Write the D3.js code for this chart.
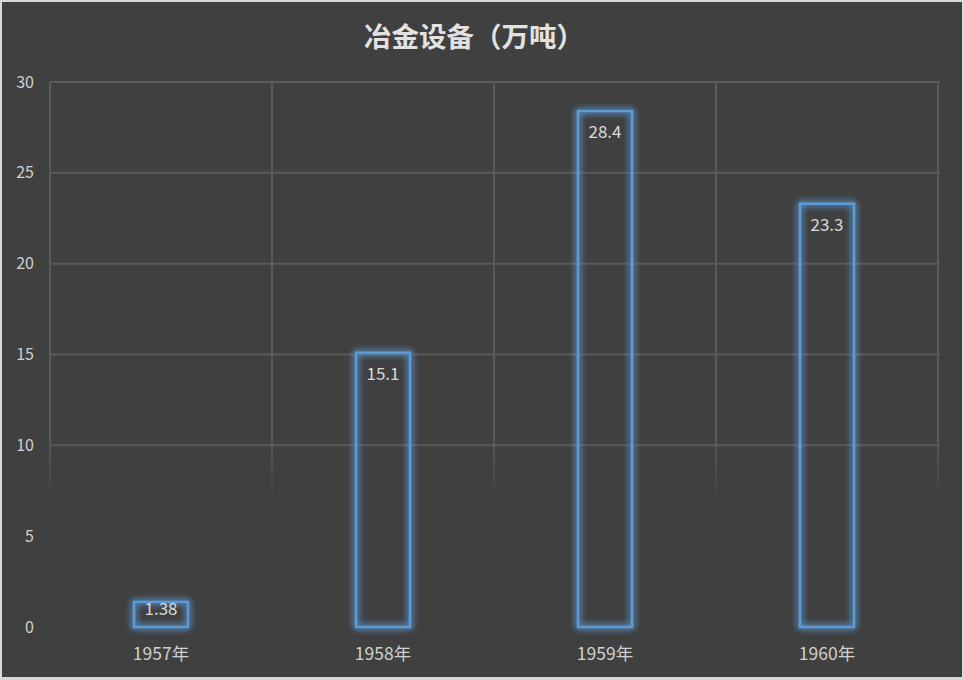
<!DOCTYPE html>
<html><head><meta charset="utf-8">
<script src="https://cdn.jsdelivr.net/npm/d3@7"></script>
<style>
html,body{margin:0;padding:0;background:#d9d9d9;}
svg{display:block;}
</style></head>
<body>
<svg id="c" width="964" height="680"></svg>
<script>
const title = "冶金设备（万吨）";
const categories = ["1957年","1958年","1959年","1960年"];
const values = [1.38, 15.1, 28.4, 23.3];
const yTicks = [0,5,10,15,20,25,30];

const W = 964, H = 680;
const svg = d3.select("#c");
const m = {left:50, right:26, top:82, bottom:53};
const FONT = "'Noto Sans CJK SC','Noto Sans',sans-serif";

svg.append("rect").attr("x",2).attr("y",2).attr("width",W-4).attr("height",H-5).attr("fill","#404040");

const defs = svg.append("defs");
const f = defs.append("filter").attr("id","glow").attr("x","-50%").attr("y","-50%").attr("width","200%").attr("height","200%");
f.append("feGaussianBlur").attr("in","SourceGraphic").attr("stdDeviation",3.5).attr("result","b");
const mg = f.append("feMerge");
mg.append("feMergeNode").attr("in","b");
mg.append("feMergeNode").attr("in","b");
mg.append("feMergeNode").attr("in","SourceGraphic");

const grad = defs.append("linearGradient").attr("id","vfade").attr("gradientUnits","userSpaceOnUse")
  .attr("x1",0).attr("y1",82).attr("x2",0).attr("y2",500);
grad.append("stop").attr("offset","0.85").attr("stop-color","#5a5a5a").attr("stop-opacity",1);
grad.append("stop").attr("offset","1").attr("stop-color","#5a5a5a").attr("stop-opacity",0);

const x = d3.scaleBand().domain(categories).range([m.left, W-m.right]);
const y = d3.scaleLinear().domain([0,30]).range([H-m.bottom, m.top]);

// horizontal grid
svg.append("g").selectAll("line").data(yTicks.filter(t=>t>=10)).join("line")
  .attr("x1",m.left).attr("x2",W-m.right+2)
  .attr("y1",d=>y(d)).attr("y2",d=>y(d))
  .attr("stroke","#5a5a5a").attr("stroke-width",2);

// vertical grid
const vx = categories.map(c=>x(c)).concat([x(categories[categories.length-1])+x.bandwidth()]);
svg.append("g").selectAll("line").data(vx).join("line")
  .attr("x1",d=>d).attr("x2",d=>d)
  .attr("y1",m.top).attr("y2",500)
  .attr("stroke","url(#vfade)").attr("stroke-width",2);

// y axis labels
const yAxis = d3.axisLeft(y).tickValues(yTicks).tickSize(0).tickPadding(0);
const ga = svg.append("g").attr("transform",`translate(34,0)`).call(yAxis);
ga.select(".domain").remove();
ga.selectAll("text").attr("fill","#d0d0d0").style("font-family",FONT).style("font-size","16px").attr("dy","0.32em");

// x axis labels
const xAxis = d3.axisBottom(x).tickSize(0).tickPadding(0);
const gx = svg.append("g").attr("transform",`translate(0,${H-m.bottom+22})`).call(xAxis);
gx.select(".domain").remove();
gx.selectAll("text").attr("fill","#d0d0d0").style("font-family",FONT).style("font-size","17.5px").attr("dy","0.62em");

// bars
const bw = 54;
svg.append("g").selectAll("rect").data(values).join("rect")
  .attr("x",(d,i)=>x(categories[i])+x.bandwidth()/2-bw/2)
  .attr("y",d=>y(d))
  .attr("width",bw)
  .attr("height",d=>y(0)-y(d))
  .attr("fill","none")
  .attr("stroke","#5b9bd5").attr("stroke-width",2.5)
  .attr("filter","url(#glow)");

// labels
svg.append("g").selectAll("text").data(values).join("text")
  .attr("x",(d,i)=>x(categories[i])+x.bandwidth()/2)
  .attr("y",d=>(y(0)-y(d) < 40) ? y(d)+13 : y(d)+27)
  .attr("text-anchor","middle")
  .attr("fill","#d9d9d9")
  .style("font-family",FONT).style("font-size","17px")
  .text(d=>d);

svg.append("text").attr("x",474).attr("y",47).attr("text-anchor","middle")
  .attr("fill","#e2e2e2").style("font-family","'Noto Sans CJK SC',sans-serif")
  .style("font-size","27.5px").style("font-weight","bold").text(title);
</script>
</body></html>
